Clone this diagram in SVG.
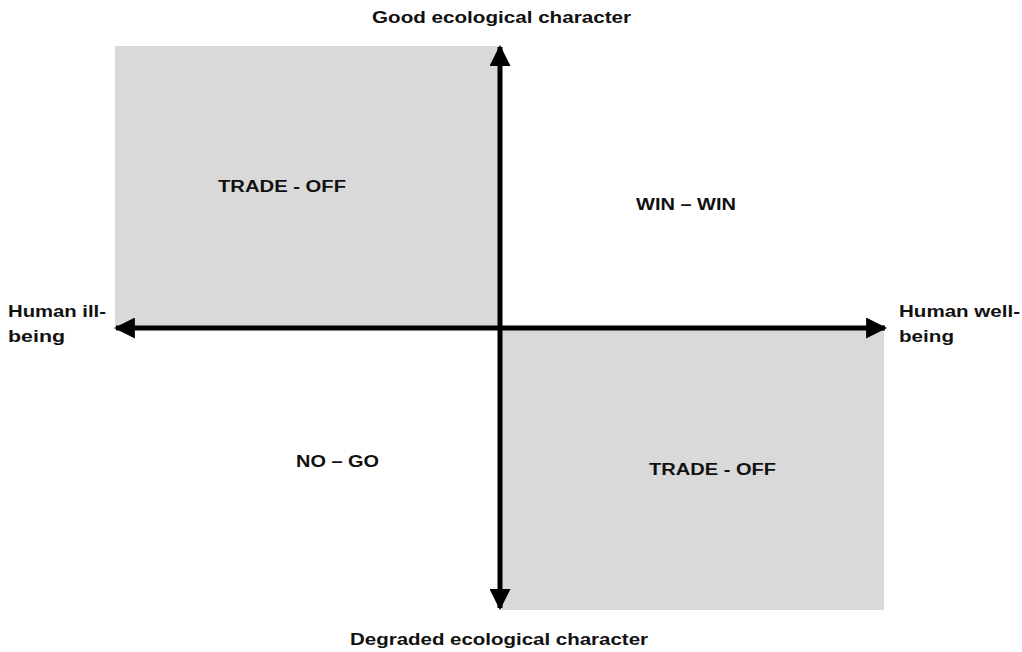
<svg xmlns="http://www.w3.org/2000/svg" width="1022" height="652" viewBox="0 0 1022 652">
<style>
text{font-family:"Liberation Sans",Arial,sans-serif;font-weight:bold;font-size:16px;fill:#111;}
.q{fill:#d9d9d9;}
.ax{stroke:#000;stroke-width:5;fill:none;}
</style>
<defs>
<marker id="ah" viewBox="0 0 10 10" refX="9" refY="5" markerWidth="4.2" markerHeight="4.2" markerUnits="strokeWidth" orient="auto">
<path d="M0,0 L10,5 L0,10 z" fill="#000"/>
</marker>
</defs>
<rect width="1022" height="652" fill="#fff"/>
<g id="quadrants">
<rect id="tl" class="q" x="115" y="46" width="385" height="282"/>
<rect id="br" class="q" x="500" y="328" width="384" height="282"/>
</g>
<g id="connectors">
<line class="ax" x1="500" y1="328" x2="500" y2="47" marker-end="url(#ah)"/>
<line class="ax" x1="500" y1="328" x2="500" y2="608" marker-end="url(#ah)"/>
<line class="ax" x1="500" y1="328" x2="116" y2="328" marker-end="url(#ah)"/>
<line class="ax" x1="500" y1="328" x2="885" y2="328" marker-end="url(#ah)"/>
</g>
<g id="labels">
<text x="372" y="23" textLength="259" lengthAdjust="spacingAndGlyphs">Good ecological character</text>
<text x="350" y="645" textLength="298" lengthAdjust="spacingAndGlyphs">Degraded ecological character</text>
<text x="8" y="317" textLength="98" lengthAdjust="spacingAndGlyphs">Human ill-</text>
<text x="8" y="342" textLength="57" lengthAdjust="spacingAndGlyphs">being</text>
<text x="899" y="317" textLength="121" lengthAdjust="spacingAndGlyphs">Human well-</text>
<text x="899" y="342" textLength="55" lengthAdjust="spacingAndGlyphs">being</text>
</g>
<g id="q-tradeoff-1"><text x="218" y="192" textLength="128" lengthAdjust="spacingAndGlyphs">TRADE - OFF</text></g>
<g id="q-winwin"><text x="636" y="210" textLength="100" lengthAdjust="spacingAndGlyphs">WIN – WIN</text></g>
<g id="q-nogo"><text x="296" y="467" textLength="83" lengthAdjust="spacingAndGlyphs">NO – GO</text></g>
<g id="q-tradeoff-2"><text x="649" y="475" textLength="127" lengthAdjust="spacingAndGlyphs">TRADE - OFF</text></g>
</svg>
